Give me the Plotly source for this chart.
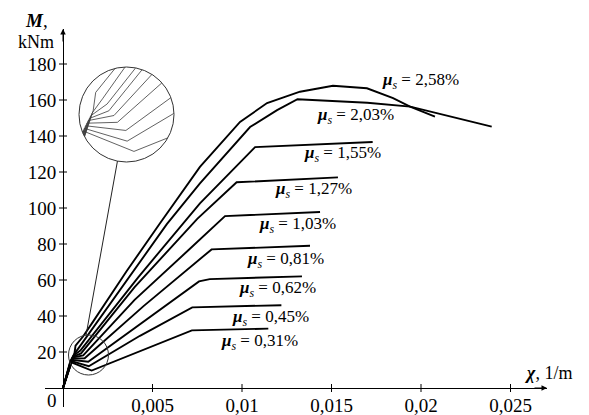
import math
import plotly.graph_objects as go

# ---------------- data (curvature chi in 1/m, moment M in kNm) ----------------
ratios = ["0,31", "0,45", "0,62", "0,81", "1,03", "1,27", "1,55", "2,03", "2,58"]

chi_031 = [0, 0.00040, 0.00160, 0.00720, 0.01147]
M_031 = [0, 14.5, 9.7, 32.0, 33.0]

chi_045 = [0, 0.00043, 0.00144, 0.00430, 0.00722, 0.01220]
M_045 = [0, 15.1, 12.1, 29.0, 44.8, 46.0]

chi_062 = [0, 0.00046, 0.00141, 0.00450, 0.00760, 0.00820, 0.01335]
M_062 = [0, 15.7, 14.6, 37.0, 59.2, 60.5, 62.0]

chi_081 = [0, 0.00049, 0.00121, 0.00450, 0.00830, 0.01380]
M_081 = [0, 16.3, 16.5, 45.5, 77.0, 79.0]

chi_103 = [0, 0.00052, 0.00113, 0.00400, 0.00700, 0.00905, 0.01436]
M_103 = [0, 16.9, 18.1, 49.0, 76.5, 95.5, 97.8]

chi_127 = [0, 0.00055, 0.00101, 0.00400, 0.00750, 0.00970, 0.01536]
M_127 = [0, 17.4, 19.2, 56.0, 94.0, 114.3, 117.0]

chi_155 = [0, 0.00058, 0.00097, 0.00420, 0.00765, 0.01073, 0.01730]
M_155 = [0, 18.0, 20.8, 61.5, 102.6, 133.8, 136.7]

chi_203 = [0, 0.00061, 0.00086, 0.00400, 0.00580, 0.00765, 0.01045, 0.01196,
           0.01310, 0.01700, 0.01940, 0.02395]
M_203 = [0, 18.6, 22.0, 66.0, 91.0, 113.7, 145.0, 154.4, 160.4, 158.5, 156.3, 145.2]

chi_258 = [0, 0.00064, 0.00070, 0.00112, 0.00169, 0.00356, 0.00542, 0.00765,
           0.00989, 0.01140, 0.01324, 0.01508, 0.01698, 0.01844, 0.01939, 0.02078]
M_258 = [0, 19.2, 23.5, 28.6, 37.0, 65.0, 91.5, 122.8, 147.8, 158.3, 164.6,
         167.9, 166.5, 161.0, 156.3, 150.7]

curves_chi = [chi_031, chi_045, chi_062, chi_081, chi_103, chi_127, chi_155, chi_203, chi_258]
curves_M = [M_031, M_045, M_062, M_081, M_103, M_127, M_155, M_203, M_258]

x_tick_vals = [0.005, 0.01, 0.015, 0.02, 0.025]
x_tick_text = ["0,005", "0,01", "0,015", "0,02", "0,025"]
y_tick_vals = [20, 40, 60, 80, 100, 120, 140, 160, 180]
y_tick_text = ["20", "40", "60", "80", "100", "120", "140", "160", "180"]

# ---------------- geometry / layout ----------------
PAGE_OFF = 8                           # default page (body) margin
W, H = 589 - PAGE_OFF, 415 - PAGE_OFF
L, R, T, B = 45, 547, 29, 407          # plot box in page pixels
X0_PX, PX_PER_X = 63, 17900.0          # page pixel of chi = 0, pixels per 1/m
Y0_PX, PX_PER_Y = 388, 1.8             # page pixel of M = 0, pixels per kNm

x_range = [(L - X0_PX) / PX_PER_X, (R - X0_PX) / PX_PER_X]
y_range = [(Y0_PX - B) / PX_PER_Y, (Y0_PX - T) / PX_PER_Y]


def px2x(px):
    return (px - X0_PX) / PX_PER_X


def py2y(py):
    return (Y0_PX - py) / PX_PER_Y


def paper_x(px):
    return (px - L) / (R - L)


def paper_y(py):
    return (B - py) / (B - T)


FONT = "Liberation Serif, Times New Roman, serif"
TICK_SIZE = 19

# magnifier: small circle (source) and big circle (inset), page pixels
S_CX, S_CY, S_R = 88.5, 355.0, 20.0
B_CX, B_CY, B_R = 126.5, 114.5, 47.5
s_cx, s_cy = px2x(S_CX), py2y(S_CY)
s_rx, s_ry = S_R / PX_PER_X, S_R / PX_PER_Y


def clip_to_circle(xs, ys, cx, cy, rx, ry):
    ox, oy = [], []
    last = None
    pts = [((x - cx) / rx, (y - cy) / ry) for x, y in zip(xs, ys)]
    for (u0, v0), (u1, v1) in zip(pts[:-1], pts[1:]):
        du, dv = u1 - u0, v1 - v0
        a = du * du + dv * dv
        if a == 0:
            continue
        b = 2 * (u0 * du + v0 * dv)
        c = u0 * u0 + v0 * v0 - 1
        disc = b * b - 4 * a * c
        if disc <= 0:
            continue
        sq = math.sqrt(disc)
        t0 = max(0.0, (-b - sq) / (2 * a))
        t1 = min(1.0, (-b + sq) / (2 * a))
        if t0 >= t1:
            continue
        p0 = (u0 + t0 * du, v0 + t0 * dv)
        p1 = (u0 + t1 * du, v0 + t1 * dv)
        if last is not None and abs(last[0] - p0[0]) < 1e-9 and abs(last[1] - p0[1]) < 1e-9:
            seg = [p1]
        else:
            if ox:
                ox.append(None)
                oy.append(None)
            seg = [p0, p1]
        for u, v in seg:
            ox.append(cx + u * rx)
            oy.append(cy + v * ry)
        last = p1
    return ox, oy


fig = go.Figure()

for xs, ys in zip(curves_chi, curves_M):
    fig.add_trace(go.Scatter(x=xs, y=ys, mode="lines", xaxis="x", yaxis="y",
                             line=dict(color="black", width=1.9),
                             hoverinfo="skip", cliponaxis=False))

for xs, ys in zip(curves_chi, curves_M):
    cx_, cy_ = clip_to_circle(xs, ys, s_cx, s_cy, s_rx * 0.995, s_ry * 0.995)
    fig.add_trace(go.Scatter(x=cx_, y=cy_, mode="lines", xaxis="x2", yaxis="y2",
                             line=dict(color="#3a3a3a", width=0.8),
                             hoverinfo="skip"))

shapes = []
# crossing tick marks
for t in x_tick_vals:
    shapes.append(dict(type="line", xref="x", yref="y", x0=t, x1=t,
                       ysizemode="pixel", yanchor=0, y0=-4, y1=4,
                       line=dict(color="black", width=1)))
for t in y_tick_vals:
    shapes.append(dict(type="line", xref="x", yref="y", y0=t, y1=t,
                       xsizemode="pixel", xanchor=0, x0=-4, x1=4,
                       line=dict(color="black", width=1)))
# small circle
shapes.append(dict(type="circle", xref="x", yref="y",
                   x0=s_cx - s_rx, x1=s_cx + s_rx, y0=s_cy - s_ry, y1=s_cy + s_ry,
                   line=dict(color="#333", width=1)))
# big circle
shapes.append(dict(type="circle", xref="paper", yref="paper",
                   x0=paper_x(B_CX - B_R), x1=paper_x(B_CX + B_R),
                   y0=paper_y(B_CY + B_R), y1=paper_y(B_CY - B_R),
                   line=dict(color="#333", width=1)))
# connector
a1, a2 = math.radians(97), math.radians(-101)
p1x, p1y = S_CX + S_R * math.cos(a1), S_CY - S_R * math.sin(a1)
p2x, p2y = B_CX + B_R * math.cos(a2), B_CY - B_R * math.sin(a2)
shapes.append(dict(type="line", xref="x", yref="y",
                   x0=px2x(p1x), y0=py2y(p1y), x1=px2x(p2x), y1=py2y(p2y),
                   line=dict(color="#222", width=1)))

annotations = []
# curve labels
label_left_px = [219, 230, 237, 245, 257, 273, 302, 315, 380]
label_mid_py = [342, 318, 289, 260, 225, 190, 154, 116, 81]
for r, lx, ly in zip(ratios, label_left_px, label_mid_py):
    annotations.append(dict(
        x=px2x(lx), y=py2y(ly), xref="x", yref="y", xanchor="left", yanchor="middle",
        text="<b><i>\u03bc</i></b><sub><i>s</i></sub> = " + r + "%",
        showarrow=False, font=dict(family=FONT, size=17, color="black")))

# axis arrows
annotations.append(dict(x=x_range[1], y=0, xref="x", yref="y", ax=-14, ay=0,
                        text="", showarrow=True, arrowhead=2, arrowsize=1.1,
                        arrowwidth=1, arrowcolor="black"))
annotations.append(dict(x=0, y=y_range[1], xref="x", yref="y", ax=0, ay=14,
                        text="", showarrow=True, arrowhead=2, arrowsize=1.1,
                        arrowwidth=1, arrowcolor="black"))


def text_at(px, py, text, xanchor="center", size=18):
    annotations.append(dict(x=paper_x(px), y=paper_y(py), xref="paper", yref="paper",
                            xanchor=xanchor, yanchor="middle", text=text,
                            showarrow=False,
                            font=dict(family=FONT, size=size, color="black")))


text_at(36, 20, "<b><i>M</i></b>,", size=19)
text_at(36, 42, "kNm", size=18)
text_at(522, 373, "<b><i>\u03c7</i></b>, 1/m", xanchor="left", size=18)
text_at(52, 400, "0", size=TICK_SIZE)

fig.update_layout(
    template="none",
    width=W, height=H,
    margin=dict(l=L - PAGE_OFF, r=W - (R - PAGE_OFF), t=T - PAGE_OFF,
                b=H - (B - PAGE_OFF), pad=0, autoexpand=False),
    paper_bgcolor="white", plot_bgcolor="white",
    showlegend=False,
    xaxis=dict(range=x_range, anchor="free", position=paper_y(Y0_PX),
               automargin=False,
               showline=True, linecolor="black", linewidth=1,
               ticks="", tickvals=x_tick_vals, ticktext=x_tick_text,
               tickfont=dict(family=FONT, size=TICK_SIZE, color="black"),
               showgrid=False, zeroline=False, fixedrange=True),
    yaxis=dict(range=y_range, anchor="free", position=paper_x(X0_PX),
               automargin=False,
               showline=True, linecolor="black", linewidth=1,
               ticks="outside", ticklen=3, tickcolor="rgba(0,0,0,0)",
               tickvals=y_tick_vals, ticktext=y_tick_text,
               tickfont=dict(family=FONT, size=TICK_SIZE, color="black"),
               showgrid=False, zeroline=False, fixedrange=True),
    xaxis2=dict(domain=[paper_x(B_CX - B_R), paper_x(B_CX + B_R)],
                range=[s_cx - s_rx, s_cx + s_rx], anchor="y2", visible=False,
                automargin=False, fixedrange=True),
    yaxis2=dict(domain=[paper_y(B_CY + B_R), paper_y(B_CY - B_R)],
                range=[s_cy - s_ry, s_cy + s_ry], anchor="x2", visible=False,
                automargin=False, fixedrange=True),
    shapes=shapes,
    annotations=annotations,
)

fig.write_html("out.html")
